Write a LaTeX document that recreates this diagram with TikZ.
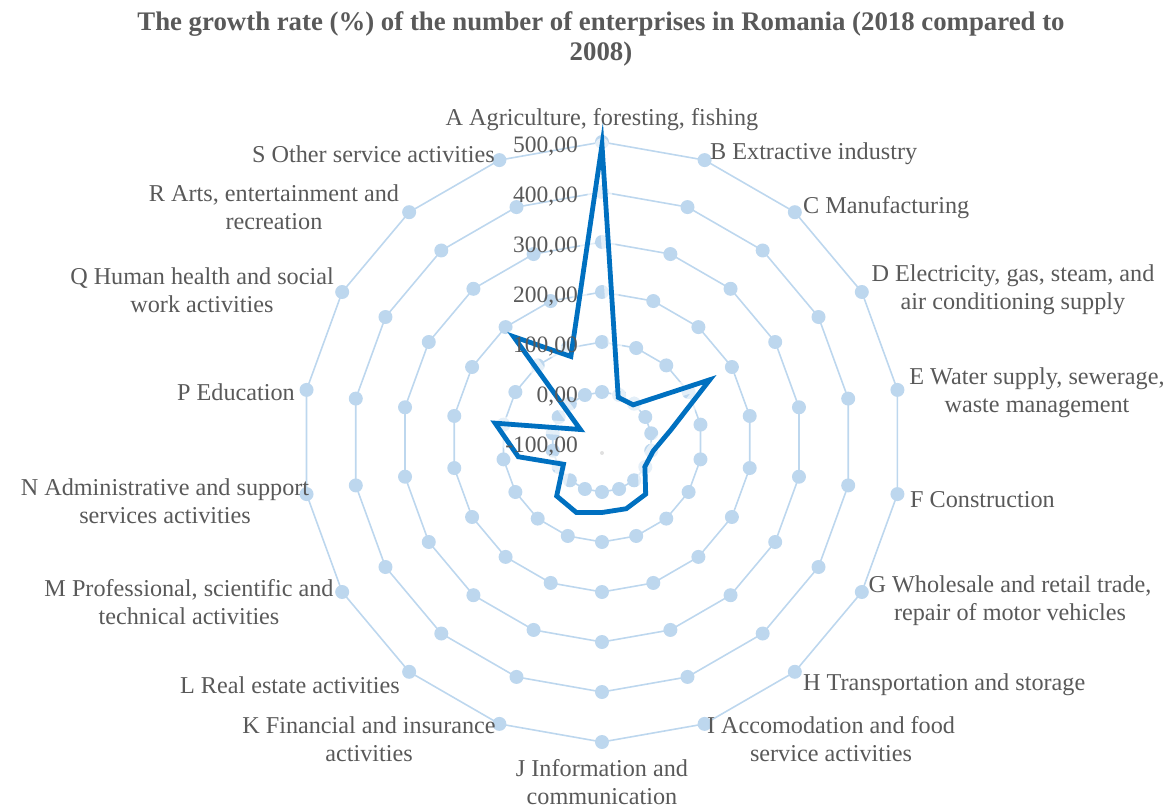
\documentclass[tikz,border=0pt]{standalone}
\usepackage{fontspec}
\setmainfont{Liberation Serif}
\usetikzlibrary{positioning}
\definecolor{txtgrey}{HTML}{595959}
\definecolor{ringblue}{HTML}{BDD7EE}
\definecolor{lineblue}{HTML}{0070C0}
\tikzset{
  ring/.style={ringblue, line width=1.6pt},
  ringdot/.style={circle, fill=ringblue, inner sep=0pt, minimum size=14pt},
  cat/.style={text=txtgrey, font=\fontsize{24.2}{28}\selectfont, align=center, inner sep=0pt},
  tick/.style={text=txtgrey, font=\fontsize{23.5}{24}\selectfont, anchor=east, inner sep=0pt},
  series/.style={lineblue, line width=4.8pt, line join=miter},
  glow/.style={white, opacity=0.6, line width=14pt, line join=round}
}
\begin{document}
\begin{tikzpicture}[x=1pt,y=1pt]
\useasboundingbox (-602,-362) rectangle (569,442);
\foreach \k in {1,...,6} {
  \foreach \i in {0,...,17} \coordinate (g\k-\i) at (90-\i*20:\k*50);
  \draw[ring] (g\k-0) \foreach \i in {1,...,17} { -- (g\k-\i) } -- cycle;
  \foreach \i in {0,...,17} \node[ringdot] (d\k-\i) at (g\k-\i) {};
}
\node[circle, fill=black!12, inner sep=0pt, minimum size=4pt] (c0) at (0,-11) {};
\foreach \r [count=\i from 0] in {297,47.5,48.5,124.5,70,52,49.5,68,71,70.5,75,70.5,44.5,85,108.5,25,137.5,91}
  \coordinate (p\i) at (90-\i*20:\r);
\draw[glow] (p0) \foreach \i in {1,...,17} { -- (p\i) } -- cycle;
\draw[series] (p0) \foreach \i in {1,...,17} { -- (p\i) } -- cycle;
\foreach \v [count=\k from 0] in {-100,0,100,200,300,400,500}
  \node[tick] (t\k) at (-24,\k*50-4) {\v,00};
\node[cat] (lA) at (0,322) {A Agriculture, foresting, fishing};
\node[cat, anchor=west] (lB) at (108,288) {B Extractive industry};
\node[cat, anchor=west] (lC) at (201,234) {C Manufacturing};
\node[cat] (lD) at (411,152) {D Electricity, gas, steam, and\\air conditioning supply};
\node[cat] (lE) at (435,49) {E Water supply, sewerage,\\waste management};
\node[cat, anchor=west] (lF) at (308,-58) {F Construction};
\node[cat] (lG) at (408,-159) {G Wholesale and retail trade,\\repair of motor vehicles};
\node[cat, anchor=west] (lH) at (201,-243) {H Transportation and storage};
\node[cat] (lI) at (229,-297) {I Accomodation and food\\service activities};
\node[cat] (lJ) at (0,-340) {J Information and\\communication};
\node[cat] (lK) at (-233,-297) {K Financial and insurance\\activities};
\node[cat, anchor=east] (lL) at (-202,-243) {L Real estate activities};
\node[cat] (lM) at (-413,-160) {M Professional, scientific and\\technical activities};
\node[cat] (lN) at (-437,-59) {N Administrative and support\\services activities};
\node[cat, anchor=east] (lP) at (-307,50) {P Education};
\node[cat] (lQ) at (-400,152) {Q Human health and social\\work activities};
\node[cat] (lR) at (-328,235) {R Arts, entertainment and\\recreation};
\node[cat, anchor=east] (lS) at (-107,288) {S Other service activities};
\node[text=txtgrey, font=\bfseries\fontsize{26.8}{30}\selectfont, align=center, inner sep=0pt] (title) at (-1,403)
  {The growth rate (\%) of the number of enterprises in Romania (2018 compared to\\2008)};
\end{tikzpicture}
\end{document}
